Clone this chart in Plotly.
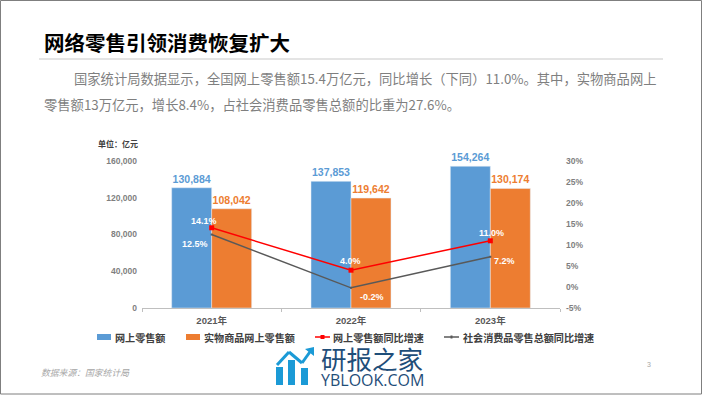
import plotly.graph_objects as go

years = ["2021年", "2022年", "2023年"]
online_retail = [130884, 137853, 154264]
physical_online = [108042, 119642, 130174]
online_growth = [14.1, 4.0, 11.0]
social_growth = [12.5, -0.2, 7.2]
left_ticks = [0, 40000, 80000, 120000, 160000]
right_ticks = [-5, 0, 5, 10, 15, 20, 25, 30]
series_names = ["网上零售额", "实物商品网上零售额", "网上零售额同比增速", "社会消费品零售总额同比增速"]

W, H = 702, 395
ML, MR, MT, MB = 142, 142, 161, 87
CJK = "Noto Sans CJK SC"
NUM = "Liberation Sans, Noto Sans CJK SC"
BLUE, ORANGE, RED, DARK = "#5b9bd5", "#ed7d31", "#ff0000", "#595959"
GREY = "#7f7f7f"
px = lambda x: (x - ML) / (W - ML - MR)
py = lambda y: 1 - (y - MT) / (H - MT - MB)

fig = go.Figure()
fig.add_bar(x=years, y=online_retail, name=series_names[0], marker_color=BLUE,
            text=[f"{v:,}" for v in online_retail], textposition="outside", cliponaxis=False,
            textfont=dict(color=BLUE, size=10.5, family=NUM, weight=700))
fig.add_bar(x=years, y=physical_online, name=series_names[1], marker_color=ORANGE,
            text=[f"{v:,}" for v in physical_online], textposition="outside", cliponaxis=False,
            textfont=dict(color=ORANGE, size=10.5, family=NUM, weight=700))
fig.add_scatter(x=years, y=online_growth, name=series_names[2], yaxis="y2", mode="lines+markers",
                line=dict(color=RED, width=1.5), marker=dict(color=RED, symbol="square", size=5))
fig.add_scatter(x=years, y=social_growth, name=series_names[3], yaxis="y2", mode="lines+markers",
                line=dict(color=DARK, width=1.5), marker=dict(color=DARK, symbol="square", size=2))

ann = []
def text(x, y, s, size, color, anchor="left", weight=400, family=CJK, style="normal"):
    ann.append(dict(x=px(x), y=py(y), xref="paper", yref="paper", text=s, showarrow=False, xanchor=anchor,
                    yanchor="middle", borderpad=0,
                    font=dict(size=size, color=color, family=family, weight=weight, style=style)))

label_font = dict(size=9, color="white", family=NUM, weight=700)
for i, (dx, dy) in enumerate([(-8, 7), (-1, 9), (1, 8)]):
    ann.append(dict(x=years[i], y=online_growth[i], xref="x", yref="y2", text=f"{online_growth[i]:.1f}%",
                    showarrow=False, xshift=dx, yshift=dy, font=label_font))
for i, (dx, dy) in enumerate([(-17, -9), (21, -9), (14, -4)]):
    ann.append(dict(x=years[i], y=social_growth[i], xref="x", yref="y2", text=f"{social_growth[i]:.1f}%",
                    showarrow=False, xshift=dx, yshift=dy, font=label_font))

text(43, 42, "网络零售引领消费恢复扩大", 20.5, "#000000", weight=700)
text(73, 78, "国家统计局数据显示，全国网上零售额15.4万亿元，同比增长（下同）11.0%。其中，实物商品网上", 13.3, GREY)
text(43, 104, "零售额13万亿元，增长8.4%，占社会消费品零售总额的比重为27.6%。", 13.3, GREY)
text(97, 143, "单位：亿元", 8, "#404040", weight=700)
text(40, 372, "数据来源：国家统计局", 8.8, "#a6a6a6", style="italic")
text(649, 364, "3", 7, "#a6a6a6", anchor="center", family=NUM)
text(320, 357, "研报之家", 25.5, "#1f4e79")
text(320, 380, "YBLOOK.COM", 16, "#1f4e79", family="Open Sans, Noto Sans")

legend_y = 337
for name, x in zip(series_names, [114, 203, 332, 462]):
    text(x, legend_y, name, 10.1, "#404040", weight=700)

def rect(x0, y0, x1, y1, fill=None, line=None, lw=0):
    return dict(type="rect", xref="paper", yref="paper", x0=px(x0), x1=px(x1), y0=py(y0), y1=py(y1),
                fillcolor=fill, line=dict(color=line, width=lw), layer="above")
def seg(x0, y0, x1, y1, color, lw):
    return dict(type="line", xref="paper", yref="paper", x0=px(x0), x1=px(x1), y0=py(y0), y1=py(y1),
                line=dict(color=color, width=lw), layer="above")

LOGO = "#1b9ad6"
shapes = [
    rect(0.5, 0.5, 701.5, 394, None, "#7f7f7f", 1),
    seg(39, 59, 663, 59, "#c9c9c9", 1.2),
    rect(97, legend_y - 3, 111, legend_y + 3, BLUE),
    rect(186, legend_y - 3, 200, legend_y + 3, ORANGE),
    seg(315, legend_y, 330, legend_y, RED, 1.5),
    rect(320.5, legend_y - 2, 324.5, legend_y + 2, RED),
    seg(444, legend_y, 459, legend_y, DARK, 1.5),
    rect(450.5, legend_y - 1.5, 452.5, legend_y + 1.5, DARK),
    rect(276, 367, 283, 385, LOGO),
    rect(288, 360, 295, 385, LOGO),
    rect(301, 368, 308, 385, LOGO),
    seg(277, 365, 289, 352, LOGO, 3),
    seg(289, 352, 302, 363, LOGO, 3),
    seg(302, 363, 312, 349, LOGO, 3),
    dict(type="path", xref="paper", yref="paper",
         path=f"M {px(314)} {py(347)} L {px(305)} {py(349)} L {px(314)} {py(356)} Z",
         fillcolor=LOGO, line=dict(width=0), layer="above"),
]

fig.update_layout(
    width=W, height=H, margin=dict(l=ML, r=MR, t=MT, b=MB), paper_bgcolor="white", plot_bgcolor="white",
    barmode="group", bargap=0.426, bargroupgap=0, annotations=ann, shapes=shapes,
    font=dict(family=CJK), showlegend=False,
    xaxis=dict(type="category", tickson="boundaries", ticks="outside", ticklen=3, tickcolor="#bfbfbf",
               showline=True, linecolor="#bfbfbf", linewidth=1, showgrid=False, ticklabelstandoff=4,
               tickfont=dict(size=9.5, color="#595959", family=NUM, weight=700)),
    yaxis=dict(range=[0, 160000], tickvals=left_ticks, tickformat=",", showgrid=False, zeroline=False,
               ticks="", ticklabelstandoff=4, tickfont=dict(size=8.5, color="#7f7f7f", family=NUM, weight=700)),
    yaxis2=dict(range=[-5, 30], overlaying="y", side="right", tickmode="array", tickvals=right_ticks,
                ticktext=[f"{v}%" for v in right_ticks], showgrid=False, zeroline=False,
                ticks="", ticklabelstandoff=5, tickfont=dict(size=8.5, color="#7f7f7f", family=NUM, weight=700)),
)
fig.write_html("out.html", config=dict(displayModeBar=False),
               post_script="document.body.style.margin='0';")
